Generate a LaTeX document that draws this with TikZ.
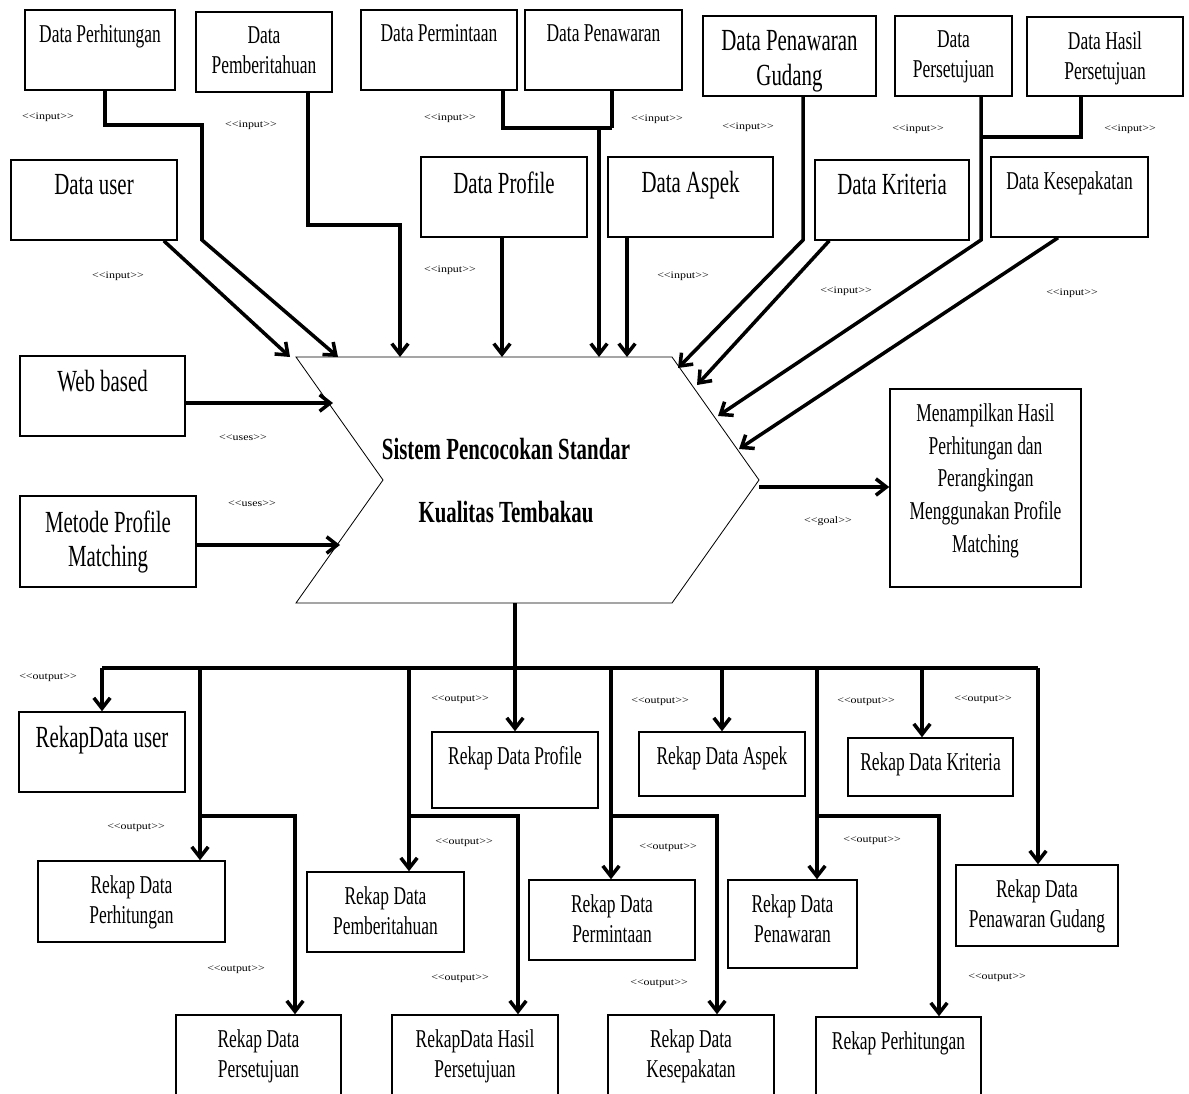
\documentclass[tikz,border=0pt]{standalone}
\usepackage{fontspec}
\setmainfont{Liberation Serif}[FakeStretch=0.68]
\newfontfamily\lblfont{Liberation Serif}[FakeStretch=1.2]
\usetikzlibrary{arrows.meta,calc}
\newcommand{\mybox}[7]{\node[boxst,minimum width={(#4-#2)*0.03cm},minimum height={(#5-#3)*0.03cm},label={[#6,anchor=north,yshift=-0.45cm]north:{#7}}] (#1) at ({(#2+#4)/2},{(#3+#5)/2}) {};}
\begin{document}
\begin{tikzpicture}[x=0.03cm,y=-0.03cm,
  boxst/.style={draw,line width=1.3pt,inner sep=0pt},
  bigtxt/.style={inner sep=0pt,align=center,font=\fontsize{26.2}{29.5}\selectfont},
  medtxt/.style={inner sep=0pt,align=center,font=\fontsize{21.9}{25.6}\selectfont},
  goaltxt/.style={inner sep=0pt,align=center,font=\fontsize{21.9}{28}\selectfont},
  ln/.style={line width=3pt},
  conn/.style={line width=3pt,-{Straight Barb[length=9pt,width=14pt]}},
  lab/.style={inner sep=0pt,font=\lblfont\fontsize{8.5}{10}\selectfont},
  ctext/.style={align=center,inner sep=0pt,font=\bfseries\fontsize{26.2}{53.8}\selectfont}]
\useasboundingbox (0,0) rectangle (1189,1093);
\clip (0,0) rectangle (1189,1093);
\fill[white] (0,0) rectangle (1189,1093);

% central chevron
\draw[line width=0.7pt] (296,357) -- (672,357) -- (759,480) -- (672,603) -- (296,603) -- (383,480) -- cycle;
\node[ctext] (sys) at (506,481) {Sistem Pencocokan Standar\\Kualitas Tembakau};

% coordinates on the chevron
\coordinate (hA) at (338,357);
\coordinate (hB) at (290,357);
\coordinate (hC) at (400,357);
\coordinate (hD) at (502,357);
\coordinate (hE) at (599,357);
\coordinate (hF) at (627,357);
\coordinate (hG) at (678,368);
\coordinate (hH) at (697,385);
\coordinate (hI) at (718,416);
\coordinate (hJ) at (739,449);
\coordinate (hK) at (333,403);
\coordinate (hL) at (340,545);
\coordinate (hR) at (759,487);
\coordinate (hO) at (515,603);

% top row
\mybox{dperh}{25}{10}{175}{90}{medtxt}{Data Perhitungan}
\mybox{dpemb}{196}{12}{332}{92}{medtxt}{Data\\Pemberitahuan}
\mybox{dperm}{361}{10}{517}{90}{medtxt}{Data Permintaan}
\mybox{dpenw}{525}{10}{682}{90}{medtxt}{Data Penawaran}
\mybox{dgud}{703}{16}{876}{96}{bigtxt}{Data Penawaran\\Gudang}
\mybox{dpers}{895}{16}{1012}{96}{medtxt}{Data\\Persetujuan}
\mybox{dhasil}{1027}{17}{1183}{96}{medtxt}{Data Hasil\\Persetujuan}
% second row
\mybox{duser}{11}{160}{177}{240}{bigtxt}{Data user}
\mybox{dprof}{421}{157}{587}{237}{bigtxt}{Data Profile}
\mybox{daspek}{608}{157}{773}{237}{bigtxt}{Data Aspek}
\mybox{dkrit}{815}{160}{969}{240}{bigtxt}{Data Kriteria}
\mybox{dkesp}{991}{157}{1148}{237}{medtxt}{Data Kesepakatan}
% left
\mybox{web}{20}{356}{185}{436}{bigtxt}{Web based}
\mybox{metode}{20}{496}{196}{587}{bigtxt}{Metode Profile\\Matching}
% goal
\mybox{menamp}{890}{389}{1081}{587}{goaltxt}{Menampilkan Hasil\\Perhitungan dan\\Perangkingan\\Menggunakan Profile\\Matching}
% outputs
\mybox{ruser}{19}{712}{185}{792}{bigtxt}{RekapData user}
\mybox{rprof}{432}{732}{598}{808}{medtxt}{Rekap Data Profile}
\mybox{raspek}{639}{732}{805}{796}{medtxt}{Rekap Data Aspek}
\mybox{rkrit}{848}{738}{1013}{796}{medtxt}{Rekap Data Kriteria}
\mybox{rperh}{38}{861}{225}{942}{medtxt}{Rekap Data\\Perhitungan}
\mybox{rpemb}{307}{872}{464}{952}{medtxt}{Rekap Data\\Pemberitahuan}
\mybox{rperm}{529}{880}{695}{960}{medtxt}{Rekap Data\\Permintaan}
\mybox{rpenw}{728}{880}{857}{968}{medtxt}{Rekap Data\\Penawaran}
\mybox{rgud}{956}{865}{1118}{946}{medtxt}{Rekap Data\\Penawaran Gudang}
\mybox{rpers}{176}{1015}{341}{1130}{medtxt}{Rekap Data\\Persetujuan}
\mybox{rhasil}{392}{1015}{558}{1130}{medtxt}{RekapData Hasil\\Persetujuan}
\mybox{rkesp}{608}{1015}{774}{1130}{medtxt}{Rekap Data\\Kesepakatan}
\mybox{rperhit}{816}{1017}{981}{1130}{medtxt}{Rekap Perhitungan}

% input connectors
\draw[conn] ($(dperh.south)+(5,0)$) |- (202,125) -- (202,240) -- (hA);
\draw[conn] ($(duser.south east)+(-14,0)$) -- (hB);
\draw[conn] ($(dpemb.south)+(44,0)$) |- (400,225) -- (hC);
\draw[conn] (dprof.south) ++(-2,0) -- (hD);
\coordinate (jPen) at (612,128);
\coordinate (jPP) at (599,128);
\draw[ln] ($(dperm.south)+(64,0)$) |- (jPen);
\draw[ln] ($(dpenw.south)+(8.5,0)$) -- (jPen);
\draw[conn] (jPP) -- (hE);
\draw[conn] ($(daspek.south)+(-63.5,0)$) -- (hF);
\draw[conn] ($(dgud.south)+(13.5,0)$) -- (803,240) -- (hG);
\draw[conn] ($(dkrit.south west)+(15,0)$) -- (hH);
\draw[ln] ($(dhasil.south)+(-24,0)$) |- (981,137);
\draw[conn] ($(dpers.south)+(27.5,0)$) -- (981,240) -- (hI);
\draw[conn] ($(dkesp.south)+(-11.5,0)$) -- (hJ);
\draw[conn] ($(web.east)+(0,7)$) -- (hK);
\draw[conn] ($(metode.east)+(0,3.5)$) -- (hL);
\draw[conn] (hR) -- (menamp.west |- hR);

% output connectors
\coordinate (busL) at (102,668);
\coordinate (busR) at (1038,668);
\draw[ln] (busL) -- (busR);
\draw[conn] (hO) -- (rprof.north);
\draw[conn] (busL) -- (ruser.north);
\draw[conn] (busR) -- (busR |- rgud.north);
\draw[conn] (raspek.north |- busL) -- (raspek.north);
\coordinate (b0) at (922,668);
\coordinate (b1) at (200,668);
\coordinate (b2) at (409,668);
\coordinate (b3) at (611,668);
\coordinate (b4) at (817,668);
\draw[conn] (b0) -- (b0 |- rkrit.north);
\draw[conn] (b1) -- (b1 |- rperh.north);
\draw[conn] (b2) -- (b2 |- rpemb.north);
\draw[conn] (b3) -- (b3 |- rperm.north);
\draw[conn] (b4) -- (b4 |- rpenw.north);
\draw[conn] (200,816) -| ($(rpers.north)+(36.5,0)$);
\draw[conn] (409,816) -| ($(rhasil.north)+(43,0)$);
\draw[conn] (611,816) -| ($(rkesp.north)+(26,0)$);
\draw[conn] (817,816) -| ($(rperhit.north)+(40.5,0)$);

% stereotype labels
\newcommand{\inp}{\textless\textless input\textgreater\textgreater}
\newcommand{\outp}{\textless\textless output\textgreater\textgreater}
\node[lab] (i1) at (48,117) {\inp};
\node[lab] (i2) at (251,125) {\inp};
\node[lab] (i3) at (450,118) {\inp};
\node[lab] (i4) at (657,119) {\inp};
\node[lab] (i5) at (748,127) {\inp};
\node[lab] (i6) at (918,129) {\inp};
\node[lab] (i7) at (1130,129) {\inp};
\node[lab] (i8) at (118,276) {\inp};
\node[lab] (i9) at (450,270) {\inp};
\node[lab] (i10) at (683,276) {\inp};
\node[lab] (i11) at (846,291) {\inp};
\node[lab] (i12) at (1072,293) {\inp};
\node[lab] (u1) at (243,438) {\textless\textless uses\textgreater\textgreater};
\node[lab] (u2) at (252,504) {\textless\textless uses\textgreater\textgreater};
\node[lab] (g1) at (828,521) {\textless\textless goal\textgreater\textgreater};
\node[lab] (o1) at (48,678) {\outp};
\node[lab] (o2) at (136,828) {\outp};
\node[lab] (o3) at (236,970) {\outp};
\node[lab] (o4) at (460,700) {\outp};
\node[lab] (o5) at (464,843) {\outp};
\node[lab] (o6) at (460,979) {\outp};
\node[lab] (o7) at (660,702) {\outp};
\node[lab] (o8) at (668,848) {\outp};
\node[lab] (o9) at (659,984) {\outp};
\node[lab] (o10) at (866,702) {\outp};
\node[lab] (o11) at (872,841) {\outp};
\node[lab] (o12) at (983,700) {\outp};
\node[lab] (o13) at (997,978) {\outp};
\end{tikzpicture}
\end{document}
